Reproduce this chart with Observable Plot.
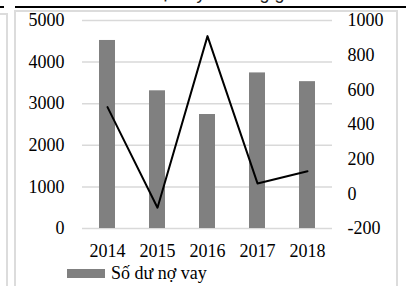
<!DOCTYPE html>
<html>
<head>
<meta charset="utf-8">
<script src="https://cdn.jsdelivr.net/npm/d3@7"></script>
<script src="https://cdn.jsdelivr.net/npm/@observablehq/plot@0.6"></script>
<style>
  html, body { margin: 0; padding: 0; background: #fff; }
  #page { position: relative; width: 406px; height: 286px; overflow: hidden; background: #fff; font-family: "Liberation Serif", "Times New Roman", serif; }
  .abs { position: absolute; }
</style>
</head>
<body>
<div id="page">
  <div class="abs" style="left:0;top:-16px;width:410px;text-align:center;font-family:'Liberation Sans',Arial,sans-serif;font-size:18px;line-height:18px;color:#222;white-space:nowrap;">Số dư nợ vay và tăng giảm</div>
  <div class="abs" style="left:0;top:6px;width:4px;height:2px;background:#000;"></div>
  <div class="abs" style="left:15px;top:6px;width:391px;height:2px;background:#000;"></div>
  <div class="abs" style="left:-4px;top:13px;width:12px;height:300px;border:2px solid #dcdcdc;box-sizing:border-box;"></div>
  <div class="abs" style="left:14px;top:10px;width:384px;height:300px;border:2px solid #dcdcdc;box-sizing:border-box;"></div>
  <div id="chart" class="abs" style="left:0;top:0;"></div>
  <div class="abs" style="left:67px;top:269px;width:38px;height:9px;background:#808080;"></div>
  <div class="abs" style="left:111px;top:263px;font-size:18px;line-height:20px;white-space:nowrap;color:#000;">Số dư nợ vay</div>
  <div class="abs" style="left:67px;top:294px;width:38px;height:2px;background:#000;"></div>
  <div class="abs" style="left:111px;top:285px;font-size:18px;line-height:20px;white-space:nowrap;color:#000;">Dư nợ vay thay đổi so với năm trước</div>
</div>
<script>
const years = ["2014", "2015", "2016", "2017", "2018"];
const balance = [4520, 3310, 2740, 3740, 3530];
const change = [500, -80, 910, 60, 130];
const leftTicks = [0, 1000, 2000, 3000, 4000, 5000];
const rightTicks = [-200, 0, 200, 400, 600, 800, 1000];

// map right-axis values (-200..1000) onto the left scale (0..5000)
const toLeft = v => (v + 200) * 5000 / 1200;
const fromLeft = v => Math.round(v * 1200 / 5000 - 200);
const barData = years.map((y, i) => ({year: y, value: balance[i]}));
const lineData = years.map((y, i) => ({year: y, value: toLeft(change[i])}));

const chart = Plot.plot({
  width: 406,
  height: 262,
  marginLeft: 82,
  marginRight: 74,
  marginTop: 20,
  marginBottom: 34,
  style: {fontFamily: "'Liberation Serif', 'Times New Roman', serif", fontSize: "18px", color: "#000", background: "transparent", overflow: "visible"},
  x: {domain: years, paddingInner: 0.68, paddingOuter: 0.34, label: null},
  y: {domain: [0, 5000], label: null},
  marks: [
    Plot.ruleY(leftTicks, {stroke: "#d9d9d9", strokeWidth: 1.5}),
    Plot.barY(barData, {x: "year", y: "value", fill: "#808080"}),
    Plot.lineY(lineData, {x: "year", y: "value", stroke: "#000", strokeWidth: 2}),
    Plot.axisX({tickSize: 0, tickPadding: 16, label: null, fill: "#000"}),
    Plot.axisY(leftTicks, {anchor: "left", tickSize: 0, tickPadding: 18, label: null, fill: "#000", tickFormat: d => String(d)}),
    Plot.axisY(rightTicks.map(toLeft), {anchor: "right", tickSize: 0, tickPadding: 15, label: null, fill: "#000", tickFormat: d => String(fromLeft(d))})
  ]
});
document.getElementById("chart").appendChild(chart);
</script>
</body>
</html>
